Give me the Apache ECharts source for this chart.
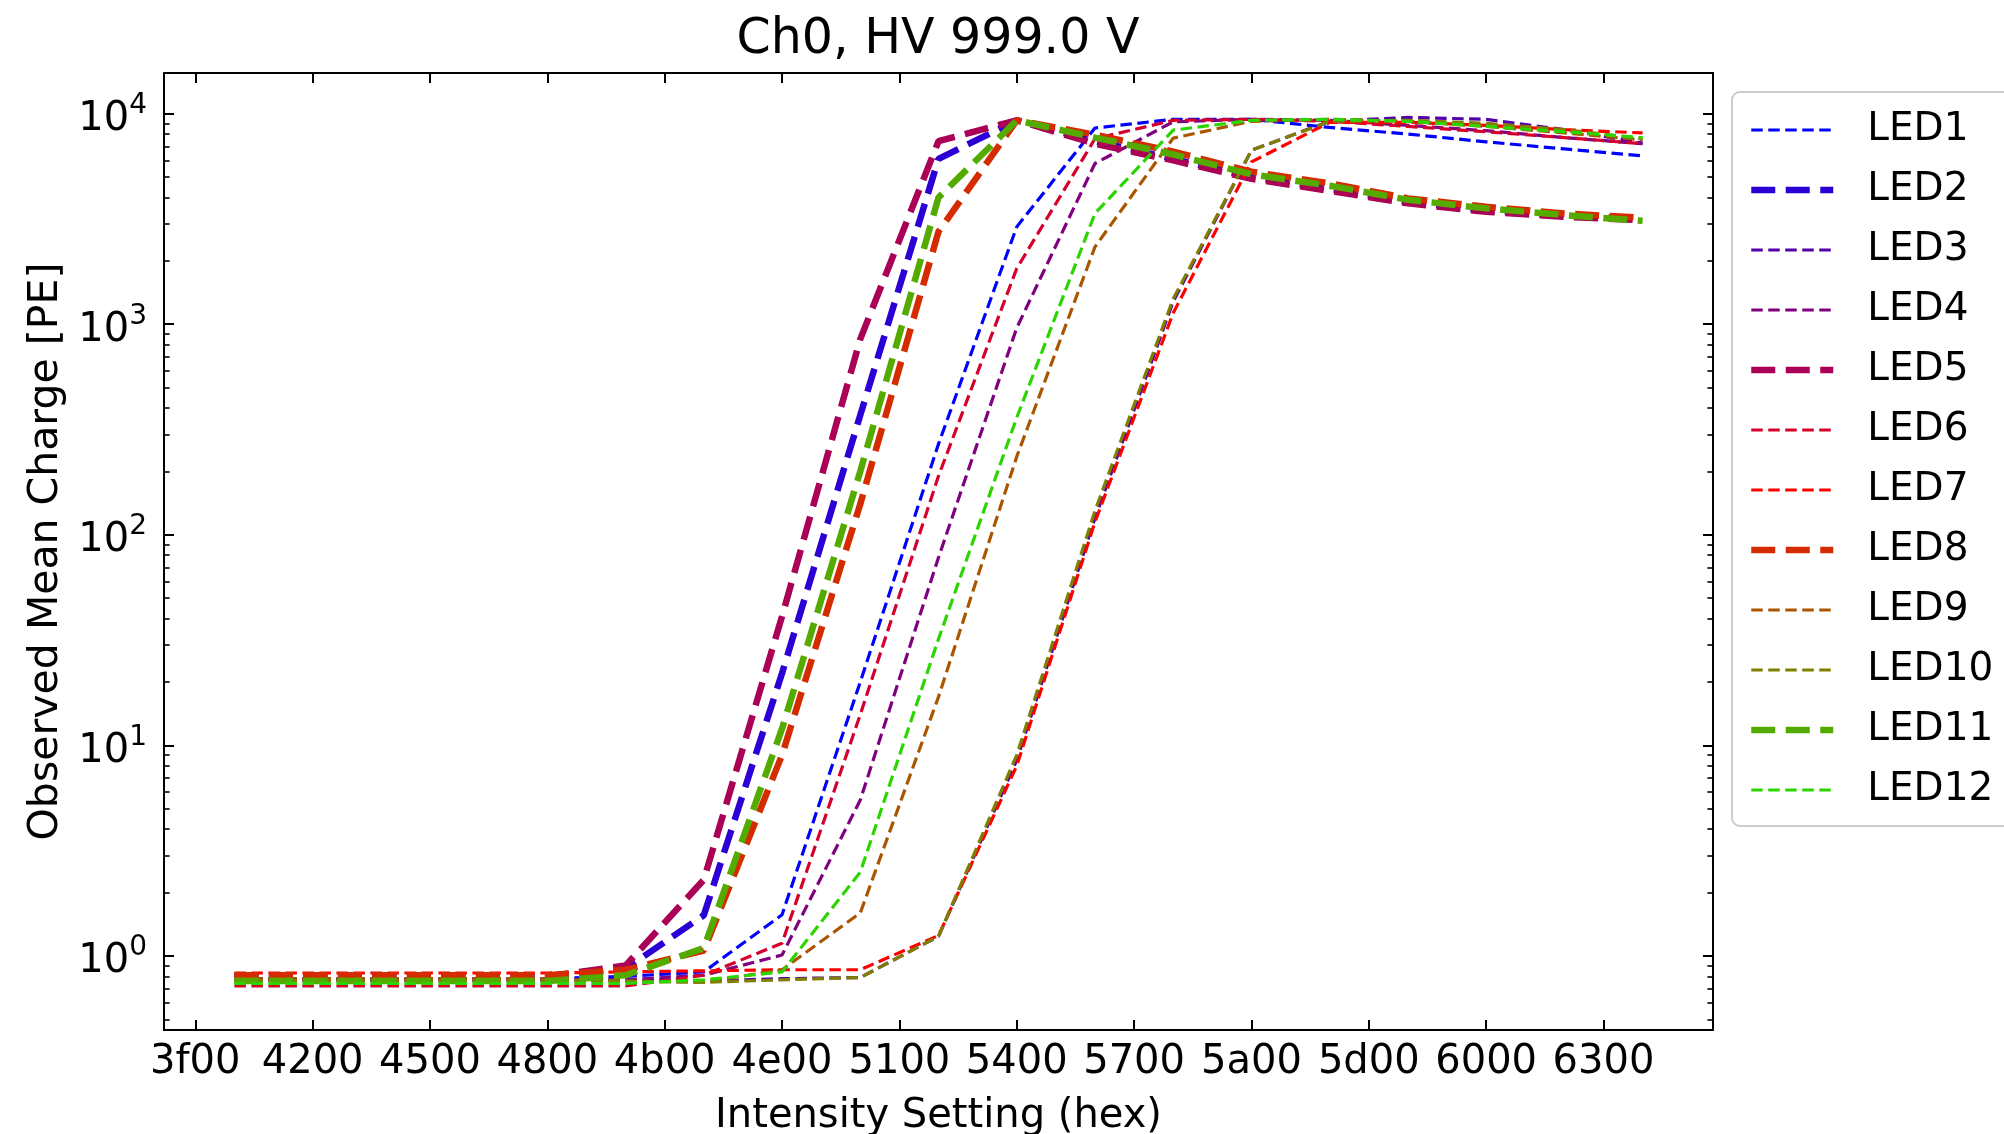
<!DOCTYPE html>
<html>
<head>
<meta charset="utf-8">
<script src="https://cdn.jsdelivr.net/npm/echarts@6/dist/echarts.min.js"></script>
<style>
html,body{margin:0;padding:0;background:#ffffff;}
#chart{width:2004px;height:1134px;}
</style>
</head>
<body>
<div id="chart"></div>
<script>
// ---------------- data ----------------
const intensityHex = ['4000','4200','4400','4600','4800','4a00','4c00','4e00','5000','5200','5400','5600','5800','5a00','5c00','5e00','6000','6200','6400'];
const xTickLabels = ['3f00','4200','4500','4800','4b00','4e00','5100','5400','5700','5a00','5d00','6000','6300'];
const yTickValues = [1, 10, 100, 1000, 10000];
const ledNames = ['LED1','LED2','LED3','LED4','LED5','LED6','LED7','LED8','LED9','LED10','LED11','LED12'];

const LED1  = [0.78,0.78,0.78,0.78,0.78,0.80,0.84,1.57,20,270,2900,8550,9400,9400,8600,8000,7350,6800,6300];
const LED2  = [0.79,0.79,0.79,0.79,0.79,0.87,1.56,22,370,6100,9300,7400,6100,5000,4400,3800,3480,3270,3150];
const LED3  = [0.77,0.77,0.77,0.77,0.77,0.77,0.76,0.78,0.79,1.24,8.5,120,1280,6700,9200,9600,9400,8400,7250];
const LED4  = [0.77,0.77,0.77,0.77,0.77,0.77,0.81,1.01,5.5,78,960,5800,9150,9400,9300,8800,8300,7700,7200];
const LED5  = [0.80,0.80,0.80,0.80,0.80,0.90,2.3,41,850,7400,9300,7200,6000,4900,4300,3750,3420,3240,3120];
const LED6  = [0.72,0.72,0.72,0.72,0.72,0.72,0.81,1.15,14,190,1840,7600,9300,9400,9200,8700,8200,7700,7200];
const LED7  = [0.83,0.83,0.83,0.83,0.83,0.84,0.85,0.86,0.86,1.25,8.0,115,1130,5900,9100,9100,8800,8400,8100];
const LED8  = [0.81,0.81,0.81,0.81,0.81,0.86,1.06,9.0,140,2750,9300,7950,6600,5300,4670,3960,3610,3360,3200];
const LED9  = [0.78,0.78,0.78,0.78,0.78,0.76,0.75,0.86,1.6,17,235,2330,7650,9200,9400,9200,8700,8100,7500];
const LED10 = [0.76,0.76,0.76,0.76,0.76,0.76,0.75,0.77,0.79,1.24,9.0,130,1320,6700,9200,9300,9000,8400,7600];
const LED11 = [0.76,0.76,0.76,0.76,0.76,0.81,1.09,12,200,4000,9300,7700,6400,5150,4550,3900,3550,3300,3100];
const LED12 = [0.74,0.74,0.74,0.74,0.74,0.74,0.77,0.84,2.5,32,360,3360,8350,9300,9400,9200,8700,8200,7700];

// ---------------- styles ----------------
const ledValues = [LED1,LED2,LED3,LED4,LED5,LED6,LED7,LED8,LED9,LED10,LED11,LED12];
const ledColors = ['#0000ff','#2b00d5','#5500aa','#800080','#aa0055','#d5002b','#ff0000','#d52b00','#aa5500','#808000','#55aa00','#2bd500'];
const thickLEDs = ['LED2','LED5','LED8','LED11'];
const FONT = 'DejaVu Sans';
const THIN = { width: 3.2, dash: [11.5, 5.5] };
const THICK = { width: 6.5, dash: [24, 10.5] };

const xValues = intensityHex.map(h => parseInt(h, 16));
const xTickValues = xTickLabels.map(h => parseInt(h, 16));
const yMinorTicks = [];
[0.1, 1, 10, 100, 1000, 10000].forEach(d => { for (let m = 2; m <= 9; m++) yMinorTicks.push(+(d * m).toPrecision(3)); });

const X_MIN = 15923.2, X_MAX = 26060.8;
const Y_MIN = 0.445, Y_MAX = 15600;

const axisLineStyle = { color: '#000', width: 2 };
const tickStyle = { color: '#000', width: 2 };

const chart = echarts.init(document.getElementById('chart'), null, { renderer: 'canvas' });

const series = ledValues.map((vals, i) => {
  const st = thickLEDs.includes(ledNames[i]) ? THICK : THIN;
  return {
    name: ledNames[i],
    type: 'line',
    xAxisIndex: 0,
    yAxisIndex: 0,
    data: vals.map((v, j) => [xValues[j], v]),
    symbol: 'none',
    showSymbol: false,
    clip: true,
    lineStyle: { color: ledColors[i], width: st.width, type: st.dash, cap: 'butt' },
    itemStyle: { color: ledColors[i] },
    emphasis: { disabled: true },
    z: 2
  };
});

const legendData = ledNames.map((n, i) => {
  const st = thickLEDs.includes(n) ? THICK : THIN;
  return {
    name: n,
    itemStyle: { opacity: 0, borderWidth: 0 },
    lineStyle: { color: ledColors[i], width: st.width, type: st.dash, cap: 'butt', opacity: 1 }
  };
});

const option = {
  animation: false,
  backgroundColor: '#ffffff',
  title: {
    text: 'Ch0, HV 999.0 V',
    left: 938,
    top: 16,
    textAlign: 'center',
    padding: 0,
    textStyle: { fontFamily: FONT, fontSize: 49, fontWeight: 'normal', color: '#000' }
  },
  grid: { left: 164, top: 73, right: 291, bottom: 104, show: false, containLabel: false, outerBoundsMode: 'none' },
  legend: {
    orient: 'vertical',
    left: 1732,
    top: 92,
    padding: [18, 30, 16, 16],
    itemWidth: 82,
    itemHeight: 20,
    itemGap: 20,
    backgroundColor: 'rgba(255,255,255,0.8)',
    borderColor: '#cccccc',
    borderWidth: 2,
    borderRadius: 8,
    textStyle: { fontFamily: FONT, fontSize: 39, color: '#000', lineHeight: 40, padding: [0, 0, 0, 29] },
    data: legendData
  },
  xAxis: [
    {
      type: 'value', position: 'bottom', min: X_MIN, max: X_MAX,
      name: 'Intensity Setting (hex)', nameLocation: 'middle', nameGap: 67,
      nameTextStyle: { fontFamily: FONT, fontSize: 40, color: '#000' },
      axisLine: { show: true, onZero: false, lineStyle: axisLineStyle },
      axisTick: { show: true, inside: true, length: 10, customValues: xTickValues, lineStyle: tickStyle },
      axisLabel: { show: true, customValues: xTickValues, margin: 13, fontFamily: FONT, fontSize: 40, color: '#000',
        formatter: v => Math.round(v).toString(16) },
      splitLine: { show: false }
    },
    {
      type: 'value', position: 'top', min: X_MIN, max: X_MAX,
      axisLine: { show: true, onZero: false, lineStyle: axisLineStyle },
      axisTick: { show: true, inside: true, length: 10, customValues: xTickValues, lineStyle: tickStyle },
      axisLabel: { show: false },
      splitLine: { show: false }
    }
  ],
  yAxis: [
    {
      type: 'log', logBase: 10, position: 'left', min: Y_MIN, max: Y_MAX,
      name: 'Observed Mean Charge [PE]', nameLocation: 'middle', nameGap: 97, nameRotate: 90,
      nameTextStyle: { fontFamily: FONT, fontSize: 41, color: '#000' },
      axisLine: { show: true, onZero: false, lineStyle: axisLineStyle },
      axisTick: { show: true, inside: true, length: 10, customValues: yTickValues, lineStyle: tickStyle },
      axisLabel: {
        show: true, customValues: yTickValues, margin: 17,
        padding: [12, 0, 0, 0],
        formatter: v => '{b|10}{s|' + Math.round(Math.log10(v)) + '}',
        rich: {
          b: { fontFamily: FONT, fontSize: 40, lineHeight: 40, color: '#000', verticalAlign: 'bottom' },
          s: { fontFamily: FONT, fontSize: 28, lineHeight: 28, color: '#000', verticalAlign: 'bottom', padding: [0, 0, 20, 0] }
        }
      },
      splitLine: { show: false }
    },
    {
      type: 'log', logBase: 10, position: 'left', min: Y_MIN, max: Y_MAX,
      axisLine: { show: false },
      axisTick: { show: true, inside: true, length: 5.6, customValues: yMinorTicks, lineStyle: { color: '#000', width: 1.6 } },
      axisLabel: { show: false },
      splitLine: { show: false }
    },
    {
      type: 'log', logBase: 10, position: 'right', min: Y_MIN, max: Y_MAX,
      axisLine: { show: true, onZero: false, lineStyle: axisLineStyle },
      axisTick: { show: true, inside: true, length: 10, customValues: yTickValues, lineStyle: tickStyle },
      axisLabel: { show: false },
      splitLine: { show: false }
    },
    {
      type: 'log', logBase: 10, position: 'right', min: Y_MIN, max: Y_MAX,
      axisLine: { show: false },
      axisTick: { show: true, inside: true, length: 5.6, customValues: yMinorTicks, lineStyle: { color: '#000', width: 1.6 } },
      axisLabel: { show: false },
      splitLine: { show: false }
    }
  ],
  series: series
};

chart.setOption(option);
</script>
</body>
</html>
